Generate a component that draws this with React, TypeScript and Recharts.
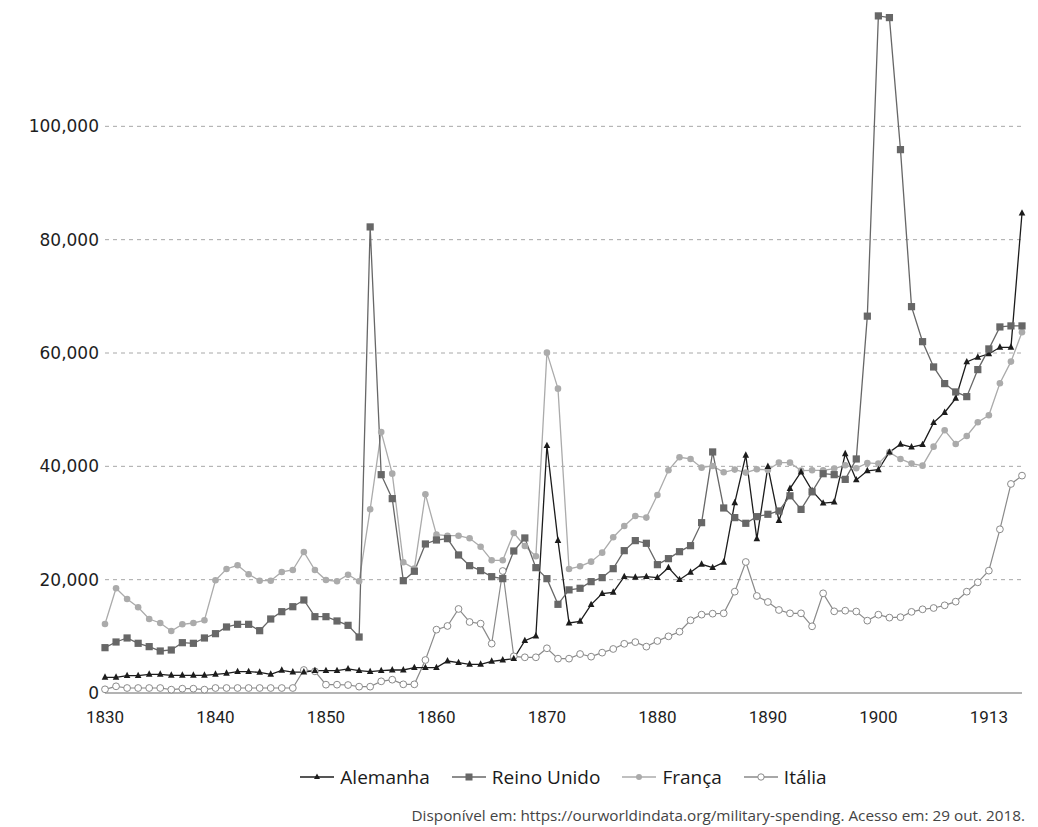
import React from "react";
import { LineChart, Line, XAxis, YAxis, CartesianGrid } from "recharts";

const years = [
  1830, 1831, 1832, 1833, 1834, 1835, 1836, 1837, 1838, 1839,
  1840, 1841, 1842, 1843, 1844, 1845, 1846, 1847, 1848, 1849,
  1850, 1851, 1852, 1853, 1854, 1855, 1856, 1857, 1858, 1859,
  1860, 1861, 1862, 1863, 1864, 1865, 1866, 1867, 1868, 1869,
  1870, 1871, 1872, 1873, 1874, 1875, 1876, 1877, 1878, 1879,
  1880, 1881, 1882, 1883, 1884, 1885, 1886, 1887, 1888, 1889,
  1890, 1891, 1892, 1893, 1894, 1895, 1896, 1897, 1898, 1899,
  1900, 1901, 1902, 1903, 1904, 1905, 1906, 1907, 1908, 1909,
  1910, 1911, 1912, 1913,
];

const alemanha = [
  2770, 2770, 3060, 3060, 3300, 3300, 3120, 3120, 3120, 3120,
  3300, 3470, 3760, 3760, 3650, 3300, 4000, 3700, 3700, 3940,
  3940, 3940, 4240, 3940, 3760, 3940, 4060, 4060, 4470, 4470,
  4470, 5650, 5350, 5060, 5060, 5590, 5820, 6060, 9230, 10060,
  43650, 26890, 12355, 12650, 15590, 17530, 17770, 20530, 20420, 20530,
  20360, 22120, 20000, 21300, 22710, 22120, 23070, 33560, 41950, 27200,
  39950, 30410, 36080, 39000, 35700, 33500, 33700, 42200, 37600, 39200,
  39400, 42500, 43890, 43400, 43830, 47710, 49500, 52000, 58420, 59250,
  59830, 61010, 61010, 84670,
];

const reinoUnido = [
  8000, 9000, 9710, 8770, 8180, 7410, 7590, 8880, 8770, 9710,
  10470, 11650, 12120, 12120, 11000, 13060, 14350, 15230, 16410, 13470,
  13470, 12710, 11940, 9880, 82250, 38530, 34300, 19820, 21480, 26300,
  27000, 27240, 24360, 22470, 21590, 20530, 20180, 25060, 27360, 22120,
  20180, 15650, 18200, 18480, 19650, 20360, 21940, 25120, 26890, 26420,
  22650, 23710, 24940, 26000, 30060, 42540, 32650, 30950, 29950, 31120,
  31540, 32120, 34800, 32400, 35500, 38700, 38530, 37700, 41300, 66500,
  119490, 119190, 95890, 68180, 62000, 57540, 54600, 53130, 52300, 57070,
  60720, 64600, 64780, 64780,
];

const franca = [
  12180, 18480, 16590, 15120, 13060, 12355, 10940, 12120, 12355, 12830,
  19890, 21890, 22540, 20950, 19820, 19820, 21360, 21710, 24890, 21710,
  19940, 19710, 20880, 19710, 32420, 46070, 38710, 23070, 21940, 35070,
  27940, 27760, 27760, 27300, 25820, 23420, 23420, 28240, 25950, 24130,
  60060, 53710, 21890, 22360, 23180, 24770, 27480, 29480, 31240, 30950,
  34950, 39300, 41600, 41300, 39770, 40070, 38950, 39420, 38890, 39480,
  39360, 40650, 40650, 39240, 39300, 39300, 39600, 40190, 39660, 40600,
  40480, 42470, 41300, 40480, 40120, 43470, 46370, 43950, 45360, 47780,
  49010, 54660, 58480, 63660,
];

const italia = [
  650, 1180, 880, 880, 880, 880, 590, 760, 760, 590,
  880, 880, 880, 880, 880, 880, 880, 880, 4060, 3820,
  1470, 1470, 1410, 1120, 1120, 2060, 2350, 1530, 1530, 5820,
  11180, 11830, 14830, 12530, 12240, 8710, 21530, 6470, 6300, 6300,
  7890, 6060, 6060, 6880, 6410, 7120, 7770, 8680, 8980, 8180,
  9180, 10000, 10820, 12830, 13830, 14000, 14060, 17880, 23120, 17120,
  16060, 14650, 14060, 14060, 11770, 17590, 14410, 14530, 14380, 12770,
  13820, 13300, 13380, 14320, 14770, 15000, 15470, 16120, 17880, 19530,
  21590, 28890, 36890, 38360,
];

const xTicks = [1830, 1840, 1850, 1860, 1870, 1880, 1890, 1900, 1910];
const xTickLabels = ["1830", "1840", "1850", "1860", "1870", "1880", "1890", "1900", "1913"];
const yTicks = [0, 20000, 40000, 60000, 80000, 100000];
const gridValues = [20000, 40000, 60000, 80000, 100000];

const seriesNames = ["Alemanha", "Reino Unido", "França", "Itália"];
const sourceText =
  "Disponível em: https://ourworldindata.org/military-spending. Acesso em: 29 out. 2018.";

const data = years.map((y, i) => ({
  year: y,
  alemanha: alemanha[i],
  reinoUnido: reinoUnido[i],
  franca: franca[i],
  italia: italia[i],
}));

const C_DE = "#1c1c1c";
const C_UK = "#676767";
const C_FR = "#ababab";
const C_IT = "#8a8a8a";

const Triangle = (props: any) => {
  const { cx, cy } = props;
  if (cx == null || cy == null) return null;
  return (
    <polygon
      key={`t-${cx}`}
      points={`${cx},${cy - 4} ${cx - 3.3},${cy + 2.4} ${cx + 3.3},${cy + 2.4}`}
      fill={C_DE}
    />
  );
};

const Square = (props: any) => {
  const { cx, cy } = props;
  if (cx == null || cy == null) return null;
  return <rect key={`s-${cx}`} x={cx - 3.6} y={cy - 3.6} width={7.2} height={7.2} fill={C_UK} />;
};

const FilledCircle = (props: any) => {
  const { cx, cy } = props;
  if (cx == null || cy == null) return null;
  return <circle key={`f-${cx}`} cx={cx} cy={cy} r={3.3} fill={C_FR} />;
};

const OpenCircle = (props: any) => {
  const { cx, cy } = props;
  if (cx == null || cy == null) return null;
  return <circle key={`o-${cx}`} cx={cx} cy={cy} r={3.4} fill="#fff" stroke={C_IT} strokeWidth={1} />;
};

const LegendIcon = ({ kind }: { kind: number }) => {
  const colors = [C_DE, C_UK, C_FR, C_IT];
  const c = colors[kind];
  return (
    <svg width={34} height={12} style={{ display: "block" }}>
      <line x1={0} y1={6} x2={34} y2={6} stroke={c} strokeWidth={1.3} />
      {kind === 0 && <polygon points="17,2.5 14,8 20,8" fill={c} />}
      {kind === 1 && <rect x={13.5} y={2.5} width={7} height={7} fill={c} />}
      {kind === 2 && <circle cx={17} cy={6} r={3} fill={c} />}
      {kind === 3 && <circle cx={17} cy={6} r={3.2} fill="#fff" stroke={c} strokeWidth={1} />}
    </svg>
  );
};

export default function App() {
  return (
    <div style={{ width: 1022, fontFamily: "'Open Sans', sans-serif" }}>
      <LineChart
        width={1022}
        height={720}
        data={data}
        margin={{ top: 5, right: 8, left: 0, bottom: 0 }}
      >
        <CartesianGrid
          vertical={false}
          horizontalValues={gridValues}
          stroke="#a8a8a8"
          strokeDasharray="4 4"
          strokeWidth={1}
        />
        <XAxis
          dataKey="year"
          type="number"
          domain={[1830, 1913]}
          ticks={xTicks}
          tickFormatter={(v: number) => xTickLabels[xTicks.indexOf(v)] ?? String(v)}
          tickLine={false}
          tickSize={0}
          tickMargin={18}
          height={35}
          axisLine={{ stroke: "#9a9a9a", strokeWidth: 1.5 }}
          tick={{ fill: "#1e1e1e", fontSize: 17, fontFamily: "Roboto, sans-serif" }}
          interval={0}
        />
        <YAxis
          type="number"
          domain={[0, 120000]}
          ticks={yTicks}
          width={97}
          axisLine={false}
          tickLine={false}
          tickSize={0}
          tickMargin={6}
          tickFormatter={(v: number) => v.toLocaleString("en-US")}
          tick={{ fill: "#1e1e1e", fontSize: 17, fontFamily: "'DejaVu Sans', sans-serif" }}
          interval={0}
        />
        <Line
          dataKey="franca"
          stroke={C_FR}
          strokeWidth={1.3}
          dot={FilledCircle}
          activeDot={false}
          isAnimationActive={false}
        />
        <Line
          dataKey="italia"
          stroke={C_IT}
          strokeWidth={1.2}
          dot={OpenCircle}
          activeDot={false}
          isAnimationActive={false}
        />
        <Line
          dataKey="alemanha"
          stroke={C_DE}
          strokeWidth={1.3}
          dot={Triangle}
          activeDot={false}
          isAnimationActive={false}
        />
        <Line
          dataKey="reinoUnido"
          stroke={C_UK}
          strokeWidth={1.3}
          dot={Square}
          activeDot={false}
          isAnimationActive={false}
        />
      </LineChart>
      <div
        style={{
          marginTop: 37,
          marginLeft: 97,
          width: 917,
          display: "flex",
          justifyContent: "center",
          alignItems: "center",
          height: 24,
          fontSize: 19,
          color: "#1a1a1a",
        }}
      >
        {seriesNames.map((n, i) => (
          <div
            key={n}
            style={{ display: "flex", alignItems: "center", marginRight: i < 3 ? 22 : 0 }}
          >
            <LegendIcon kind={i} />
            <span style={{ marginLeft: 6, lineHeight: "24px" }}>{n}</span>
          </div>
        ))}
      </div>
      <div
        style={{
          marginTop: 16,
          textAlign: "right",
          paddingRight: 5,
          fontSize: 15.3,
          lineHeight: "20px",
          color: "#444",
        }}
      >
        {sourceText}
      </div>
    </div>
  );
}
